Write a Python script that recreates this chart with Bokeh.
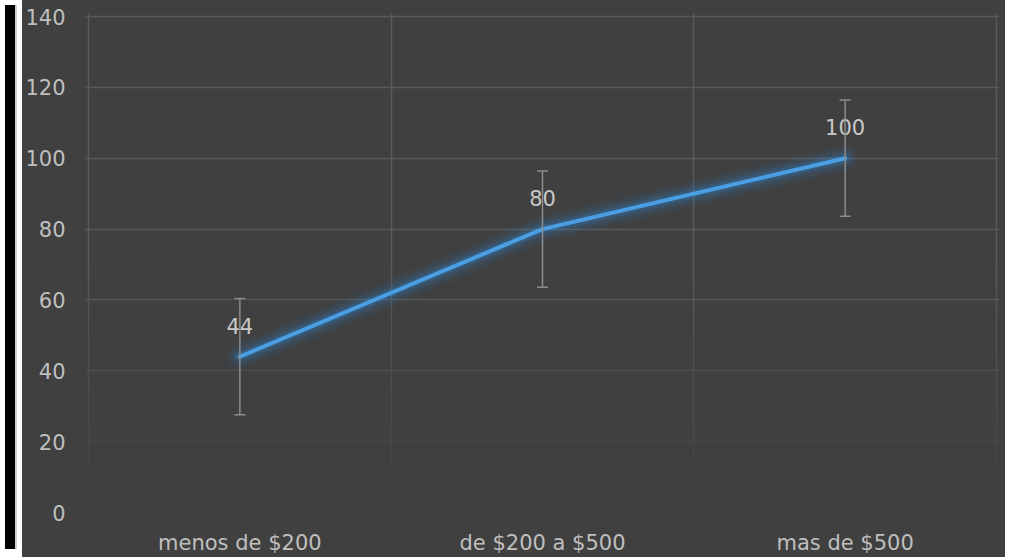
from bokeh.plotting import figure
from bokeh.models import (ColumnDataSource, FixedTicker, Whisker, TeeHead,
                          BoxAnnotation, Div)
from bokeh.layouts import row
from bokeh.core.properties import value
from bokeh.embed import file_html
from bokeh.resources import INLINE

categories = ["menos de $200", "de $200 a $500", "mas de $500"]
values = [44, 80, 100]
errors = [16.4, 16.4, 16.4]
y_ticks = [0, 20, 40, 60, 80, 100, 120, 140]

BG = "#404040"
TXT = "#bfbfbf"
FONT = "DejaVu Sans"

xs = [i + 0.5 for i in range(len(categories))]
src = ColumnDataSource(dict(
    x=xs, y=values,
    upper=[v + e for v, e in zip(values, errors)],
    lower=[v - e for v, e in zip(values, errors)],
    label=[str(v) for v in values],
))

p = figure(frame_width=914, frame_height=499,
           x_range=(-0.01, len(categories) + 0.01),
           y_range=(y_ticks[0], y_ticks[-1] + 0.85),
           output_backend="svg", toolbar_location=None,
           min_border_left=60, min_border_right=6, min_border_top=13,
           min_border_bottom=30)
p.background_fill_color = BG
p.border_fill_color = BG
p.outline_line_color = None
p.styles = {"background-color": BG}

# grid
p.xgrid.ticker = FixedTicker(ticks=list(range(len(categories) + 1)))
p.ygrid.ticker = FixedTicker(ticks=y_ticks[1:])
for g in (p.xgrid, p.ygrid):
    g.grid_line_color = "#5a5a5a"
    g.grid_line_width = 1.5

# fade of the grid toward the bottom
n = 14
for i in range(n):
    lo = y_ticks[-1] * 0.5 * i / n
    hi = y_ticks[-1] * 0.5 * (i + 1) / n
    a = 1.0 - (i + 0.5) / n
    p.add_layout(BoxAnnotation(bottom=lo, top=hi, fill_color=BG,
                               fill_alpha=min(1.0, a * 1.05), line_color=None,
                               level="underlay"))

# axes
p.yaxis.ticker = FixedTicker(ticks=y_ticks)
p.xaxis.ticker = FixedTicker(ticks=xs)
p.xaxis.major_label_overrides = {x: c for x, c in zip(xs, categories)}
for ax in (p.xaxis, p.yaxis):
    ax.axis_line_color = None
    ax.major_tick_line_color = None
    ax.minor_tick_line_color = None
    ax.major_label_text_color = TXT
    ax.major_label_text_font = FONT
    ax.major_label_text_font_size = "21px"
p.yaxis.major_label_standoff = 14
p.xaxis.major_label_standoff = 12

# error bars
wh = Whisker(source=src, base="x", upper="upper", lower="lower",
             line_color="#8c8c8c", line_width=1.5,
             upper_head=TeeHead(size=11, line_color="#8c8c8c", line_width=1.5),
             lower_head=TeeHead(size=11, line_color="#8c8c8c", line_width=1.5),
             level="glyph")
p.add_layout(wh)

# glow
for w, a in [(28, 0.05), (20, 0.08), (14, 0.12), (9, 0.2)]:
    p.line("x", "y", source=src, line_color="#2f86d6", line_width=w,
           line_alpha=a, line_cap="round", line_join="round")
p.line("x", "y", source=src, line_color="#4a9ee3", line_width=4,
       line_cap="round", line_join="round")

# data labels
p.text("x", "y", text="label", source=src, y_offset=-31,
       text_align="center", text_baseline="middle",
       text_color="#c8c8c8", text_font=value(FONT), text_font_size="21px")

strip = Div(width=12, height=544, styles={
    "background-color": "#000000",
    "border-right": "2px solid #d0d0d0",
    "box-sizing": "border-box",
})

layout = row(strip, p, spacing=0)
open("out.html", "w").write(file_html(layout, INLINE))
